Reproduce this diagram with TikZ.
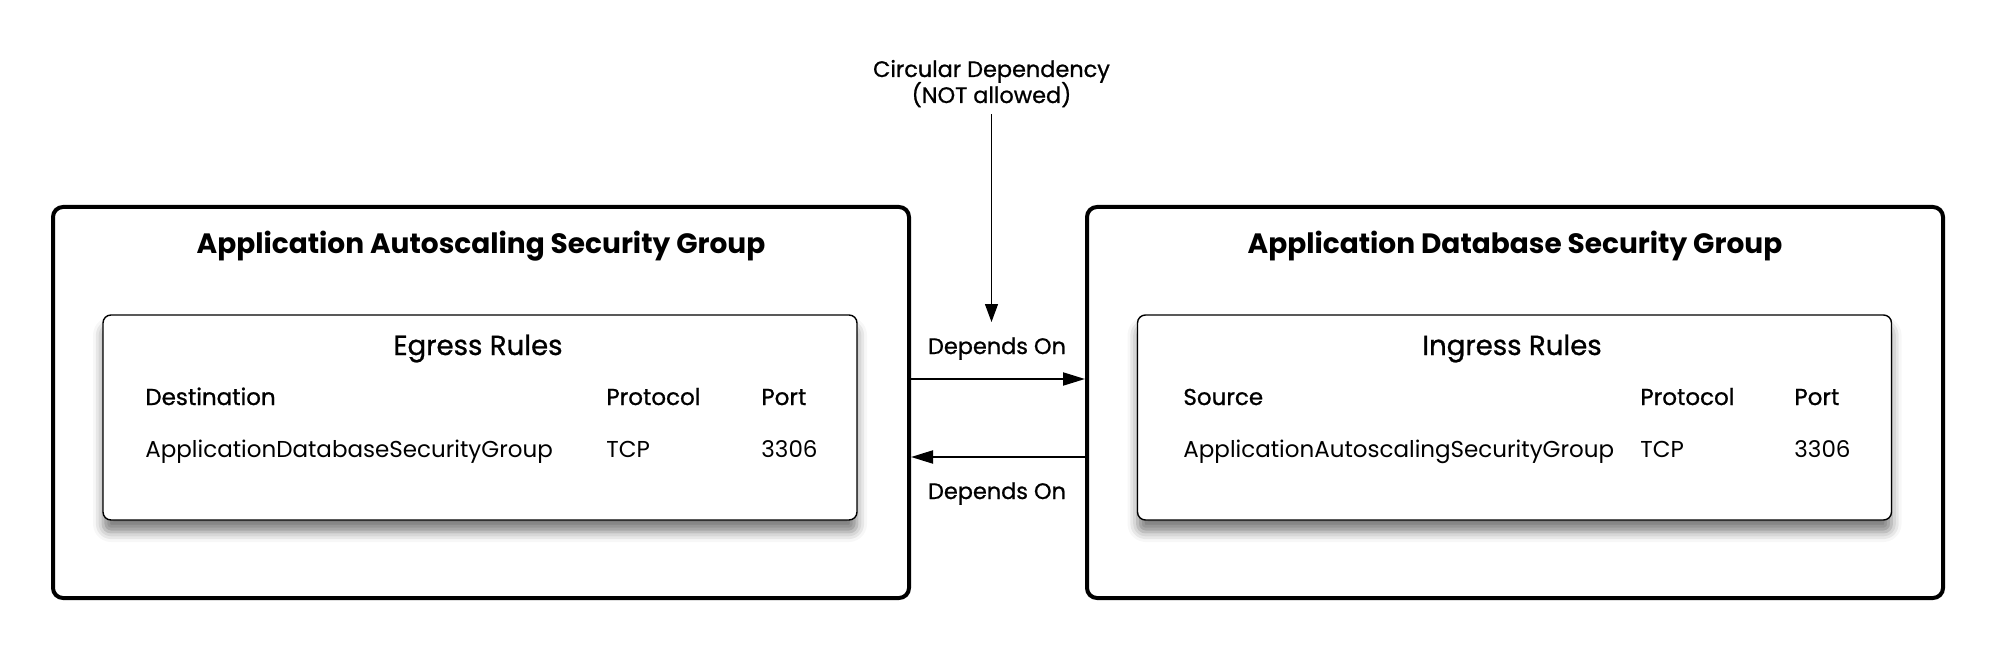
\documentclass[tikz,border=0pt]{standalone}
\usepackage{fontspec}
\setmainfont{Poppins}
\newfontfamily\mediumfont[FakeBold=0.9]{Poppins}
\usetikzlibrary{arrows.meta,shadows.blur}
\begin{document}
\begin{tikzpicture}[x=0.5pt, y=-0.5pt]
        \tikzstyle{group}=[draw, line width=2pt, rounded corners=5pt,
            inner sep=0pt, minimum width=428pt, minimum height=195.5pt]
        \tikzstyle{rules}=[draw, line width=0.7pt, rounded corners=4pt,
            fill=white, inner sep=0pt, minimum width=377pt, minimum height=102.5pt,
            blur shadow={shadow xshift=0pt, shadow yshift=-6pt,
            shadow blur radius=5pt, shadow opacity=50}]
        \tikzstyle{title}=[anchor=base, inner sep=0pt,
            font=\bfseries\fontsize{14}{16}\selectfont]
        \tikzstyle{sub}=[anchor=base, inner sep=0pt,
            font=\mediumfont\fontsize{13.8}{16}\selectfont]
        \tikzstyle{head}=[anchor=base west, inner sep=0pt,
            font=\mediumfont\fontsize{11.5}{14}\selectfont]
        \tikzstyle{cell}=[anchor=base west, inner sep=0pt,
            font=\fontsize{11.5}{14}\selectfont]
        \tikzstyle{note}=[anchor=base, font=\mediumfont\fontsize{11.2}{14}\selectfont]
        \tikzstyle{dep}=[-{Triangle[length=11pt, width=6.5pt]}, line width=1pt]

        \useasboundingbox (0,0) rectangle (1999,658);

        \node[group] (asg) at (481, 402.5) {};
        \node[group] (dsg) at (1515, 402.5) {};
        \node[rules] (egress) at (480, 417.5) {};
        \node[rules] (ingress) at (1514.5, 417.5) {};

        \node[title] (asgname) at (481, 253) {Application Autoscaling Security Group};
        \node[title] (dsgname) at (1515, 253) {Application Database Security Group};
        \node[sub] (egressname) at (478, 355) {Egress Rules};
        \node[sub] (ingressname) at (1512, 355) {Ingress Rules};

        \node[head] (edest) at (145, 405) {Destination};
        \node[head] (eproto) at (606, 405) {Protocol};
        \node[head] (eport) at (761, 405) {Port};
        \node[cell] (edestval) at (145, 457) {ApplicationDatabaseSecurityGroup};
        \node[cell] (eprotoval) at (606, 457) {TCP};
        \node[cell] (eportval) at (761, 457) {3306};

        \node[head] (isrc) at (1183, 405) {Source};
        \node[head] (iproto) at (1640, 405) {Protocol};
        \node[head] (iport) at (1794, 405) {Port};
        \node[cell] (isrcval) at (1183, 457) {ApplicationAutoscalingSecurityGroup};
        \node[cell] (iprotoval) at (1640, 457) {TCP};
        \node[cell] (iportval) at (1794, 457) {3306};

        \node[note] (circ) at (991.5, 77) {Circular Dependency};
        \node[note] (notallowed) at (991.5, 103) {(NOT allowed)};
        \coordinate (tip) at (991.5, 322);
        \node[note, inner sep=0pt] (depon) at (997, 354) {Depends On};
        \node[note, inner sep=0pt] (deponback) at (997, 499) {Depends On};

        \draw[-{Triangle[length=9pt, width=6.5pt]}, line width=0.6pt]
            (notallowed.south) -- (tip);
        \draw[dep] ([yshift=11.75pt]asg.east) -- ([yshift=11.75pt]dsg.west);
        \draw[dep] ([yshift=-27.25pt]dsg.west) -- ([yshift=-27.25pt]asg.east);

    \end{tikzpicture}
\end{document}
